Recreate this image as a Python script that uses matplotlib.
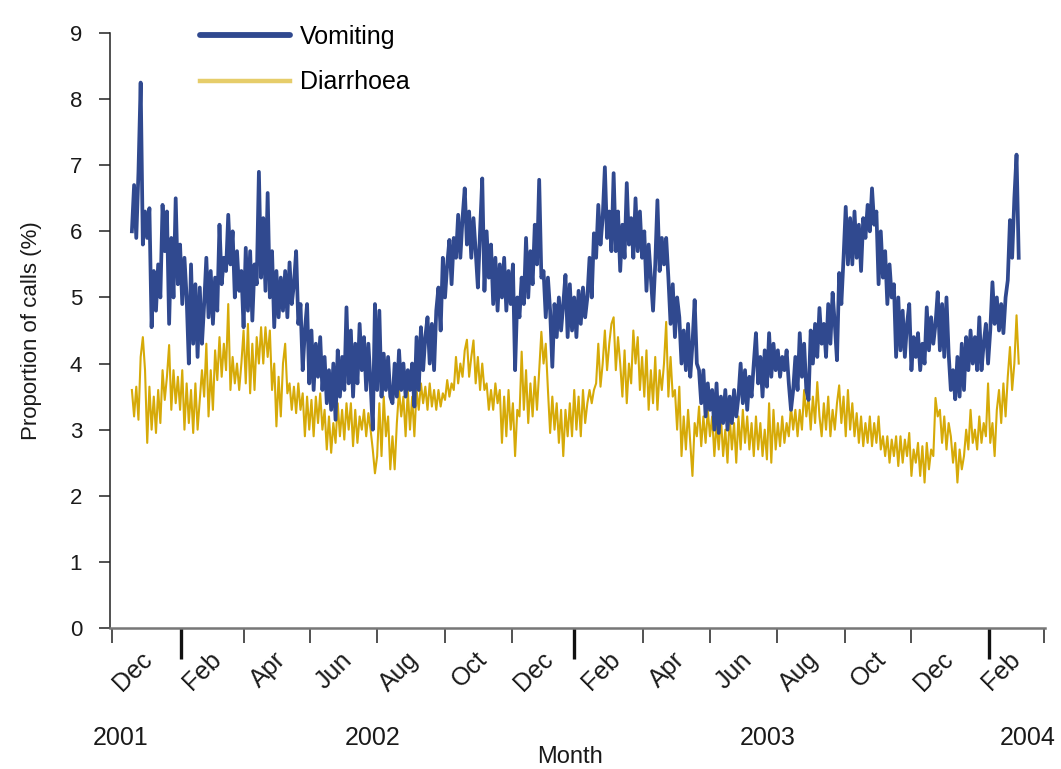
import matplotlib
matplotlib.use('Agg')
import matplotlib.pyplot as plt
import matplotlib.dates as mdates
from matplotlib.lines import Line2D
import pandas as pd

plt.rcParams['font.family'] = ['Liberation Sans', 'DejaVu Sans']

# ---------------- data (values read every 2 days) ----------------
start_date = '2001-11-19'
step = '2D'

vomiting = [
    6.0, 6.7, 5.9, 6.9, 8.25, 5.8, 6.3, 5.9, 6.35, 4.55,
    5.4, 4.8, 5.5, 5.0, 6.4, 5.7, 6.3, 4.6, 5.9, 5.0,
    6.5, 5.2, 5.8, 4.9, 5.6, 5.0, 4.0, 5.5, 4.3, 5.2,
    4.1, 5.15, 4.3, 4.9, 5.6, 4.7, 5.4, 4.6, 5.3, 4.8,
    6.1, 5.2, 5.6, 5.4, 6.25, 5.5, 6.0, 5.0, 5.7, 5.1,
    5.4, 4.55, 5.75, 4.8, 5.7, 4.65, 5.5, 5.2, 6.9, 5.3,
    6.2, 5.1, 6.58, 5.0, 5.7, 4.55, 5.4, 4.7, 5.3, 4.8,
    5.4, 4.7, 5.53, 4.9, 5.2, 5.7, 4.6, 4.9, 3.9, 4.5,
    4.9, 3.7, 4.5, 3.6, 4.3, 3.8, 4.4, 3.6, 4.1, 3.4,
    3.9, 3.3, 4.0, 3.15, 4.2, 3.5, 4.1, 3.6, 4.85, 3.7,
    4.5, 3.5, 4.3, 3.7, 4.6, 3.9, 4.4, 3.6, 4.3, 3.7,
    3.0, 4.9, 3.6, 4.8, 3.5, 4.15, 3.6, 4.1, 3.5, 3.4,
    4.0, 3.5, 4.2, 3.6, 4.0, 3.5, 3.9, 3.6, 4.0, 3.35,
    4.4, 3.6, 4.55, 3.9, 4.4, 4.7, 4.0, 4.6, 3.9, 4.8,
    5.15, 4.5, 5.6, 5.0, 5.5, 5.87, 5.2, 5.9, 5.6, 6.25,
    5.6, 6.2, 6.65, 5.8, 6.3, 5.6, 6.2, 5.7, 5.15, 6.0,
    6.8, 5.1, 6.0, 5.3, 5.8, 4.9, 5.6, 4.8, 5.5, 5.0,
    5.6, 4.8, 5.4, 4.9, 5.5, 3.9, 5.0, 4.7, 5.3, 4.9,
    5.9, 5.0, 5.7, 5.2, 6.1, 5.5, 6.78, 5.3, 5.4, 4.7,
    5.3, 4.8, 3.95, 4.9, 4.4, 5.0, 4.5, 4.9, 5.34, 4.4,
    5.2, 4.5, 5.0, 4.4, 5.1, 4.6, 5.15, 4.7, 5.0, 5.6,
    5.0, 5.97, 5.6, 6.4, 5.8, 6.2, 6.97, 5.9, 6.3, 5.7,
    6.88, 5.7, 6.3, 5.4, 6.1, 5.6, 6.73, 5.8, 6.2, 5.6,
    6.5, 5.7, 6.3, 5.6, 6.0, 5.1, 5.8, 5.3, 4.8, 5.5,
    6.47, 5.4, 5.9, 5.5, 5.9, 5.3, 4.6, 5.2, 4.4, 5.0,
    4.7, 4.0, 4.5, 3.9, 4.6, 3.8, 4.3, 4.96, 4.0, 3.9,
    3.4, 3.9, 3.2, 3.7, 3.3, 3.6, 3.0, 3.7, 2.95, 3.5,
    3.1, 3.6, 3.0, 3.5, 3.1, 3.6, 3.2, 3.5, 4.0, 3.4,
    3.9, 3.3, 3.8, 3.5, 4.0, 4.46, 3.7, 4.1, 3.5, 4.2,
    3.65, 4.46, 3.8, 4.3, 3.9, 4.2, 3.8, 4.1, 3.9, 4.2,
    3.7, 3.3, 3.6, 4.1, 3.6, 4.46, 3.8, 4.3, 3.6, 3.45,
    4.5, 4.0, 4.6, 4.1, 4.84, 4.3, 4.6, 4.1, 4.9, 4.3,
    5.07, 4.6, 4.05, 5.37, 4.9, 5.6, 6.37, 5.5, 6.2, 5.5,
    6.3, 5.6, 6.1, 5.4, 6.2, 5.9, 6.4, 6.0, 6.65, 6.1,
    6.3, 5.2, 6.0, 5.3, 5.7, 4.9, 5.5, 5.0, 5.2, 4.1,
    5.0, 4.2, 4.8, 4.1, 4.6, 4.9, 3.9, 4.4, 4.1, 4.46,
    3.9, 4.3, 4.0, 4.85, 4.2, 4.7, 4.3, 4.6, 5.08, 4.2,
    4.9, 4.1, 5.0, 4.15, 3.6, 3.9, 3.46, 4.1, 3.5, 4.3,
    3.6, 4.4, 3.9, 4.5, 4.0, 4.4, 3.9, 4.7, 3.9, 4.3,
    4.6, 4.0, 4.5, 5.23, 4.6, 5.0, 4.5, 4.9, 4.46, 5.0,
    5.26, 6.17, 5.6, 6.5, 7.16, 5.6,
]

diarrhoea = [
    3.6, 3.2, 3.65, 3.15, 4.1, 4.4, 3.9, 2.8, 3.65, 3.0,
    3.5, 2.95, 3.6, 3.1, 3.9, 3.45, 3.8, 4.28, 3.3, 3.9,
    3.4, 3.8, 3.3, 3.9, 3.0, 3.7, 3.1, 3.6, 2.95, 3.7,
    3.0, 3.45, 3.9, 3.5, 4.3, 3.2, 3.9, 3.3, 4.2, 3.75,
    4.4, 3.8, 4.3, 3.9, 4.9, 3.6, 4.1, 3.7, 4.0, 3.6,
    4.0, 4.5, 3.7, 4.6, 3.55, 4.3, 3.6, 4.4, 4.0, 4.55,
    4.0, 4.55, 4.1, 4.5, 3.6, 4.0, 3.05, 3.8, 3.2, 4.0,
    4.3, 3.55, 3.7, 3.3, 3.65, 3.25, 3.7, 3.3, 3.55, 2.9,
    3.5, 3.0, 3.45, 2.9, 3.5, 3.1, 3.55, 3.0, 3.3, 2.7,
    3.2, 2.65, 3.1, 2.8, 3.4, 2.9, 3.3, 2.85, 3.4, 3.0,
    3.4, 2.75, 3.3, 2.8, 3.2, 3.0, 3.3, 2.9, 3.25, 3.0,
    2.7, 2.34, 2.6, 3.4, 2.6, 3.5, 2.9, 3.2, 2.4, 2.9,
    2.4, 3.1, 3.6, 3.2, 3.5, 2.9, 3.6, 3.0, 3.5, 2.9,
    3.6, 3.3, 3.7, 3.4, 3.65, 3.3, 3.7, 3.35, 3.6, 3.3,
    3.6, 3.35, 3.55, 3.45, 3.75, 3.5, 3.7, 3.6, 4.1, 3.7,
    4.0, 3.8, 4.2, 4.36, 3.8, 4.1, 4.35, 3.7, 4.1, 3.6,
    4.0, 3.6, 3.7, 3.3, 3.6, 3.3, 3.7, 3.4, 3.6, 2.8,
    3.5, 2.9, 3.6, 3.0, 3.4, 2.6, 3.3, 3.2, 4.18, 3.3,
    3.9, 3.1, 3.7, 3.2, 3.8, 3.3, 3.9, 4.48, 4.0, 4.3,
    3.6, 2.95, 3.5, 3.0, 3.4, 2.8, 3.3, 2.6, 3.3, 2.9,
    3.4, 2.9, 3.6, 3.0, 3.5, 2.9, 3.6, 3.1, 3.4, 3.6,
    3.4, 3.6, 3.7, 4.3, 3.65, 4.0, 4.5, 3.9, 4.3, 4.6,
    4.7, 3.9, 4.4, 4.0, 3.5, 4.2, 3.4, 4.0, 3.7, 4.5,
    4.0, 4.4, 3.6, 4.1, 3.5, 4.2, 3.3, 3.9, 3.4, 4.1,
    3.3, 3.9, 3.6, 4.0, 4.63, 3.5, 4.1, 3.5, 3.6, 3.0,
    3.65, 2.6, 3.2, 2.7, 3.3, 2.8, 2.3, 3.1, 2.9, 3.35,
    2.75, 3.2, 2.8, 3.3, 2.9, 3.2, 2.6, 3.1, 2.7, 3.2,
    2.6, 3.0, 2.5, 3.2, 2.7, 3.1, 2.5, 3.2, 2.7, 3.3,
    2.8, 3.2, 2.7, 3.1, 2.6, 3.2, 2.7, 3.1, 2.6, 3.0,
    2.55, 3.4, 2.5, 3.3, 2.7, 3.1, 2.75, 3.2, 2.8, 3.1,
    2.9, 3.35, 3.0, 3.3, 2.9, 3.3, 3.0, 3.6, 3.2, 3.5,
    3.0, 3.5, 3.1, 3.72, 3.2, 2.9, 3.4, 3.0, 3.5, 2.9,
    3.3, 3.0, 3.4, 3.67, 3.1, 3.5, 2.9, 3.6, 3.0, 3.4,
    2.9, 3.25, 2.8, 3.2, 2.75, 3.1, 2.8, 3.2, 2.75, 3.1,
    2.8, 3.2, 2.7, 2.9, 2.6, 2.9, 2.5, 2.85, 2.6, 2.9,
    2.45, 2.9, 2.5, 2.85, 2.6, 2.95, 2.3, 2.7, 2.5, 2.8,
    2.3, 2.75, 2.2, 2.8, 2.4, 2.7, 2.6, 3.48, 3.2, 3.3,
    2.8, 3.2, 2.7, 3.1, 2.9, 2.5, 2.8, 2.2, 2.7, 2.4,
    2.6, 3.0, 2.7, 3.3, 2.8, 3.0, 2.7, 3.2, 2.8, 3.1,
    2.9, 3.7, 2.8, 3.1, 2.6, 3.3, 3.6, 3.1, 3.7, 3.2,
    3.8, 4.25, 3.6, 4.0, 4.73, 4.0,
]

series_names = ['Vomiting', 'Diarrhoea']

month_labels = ['Dec', 'Feb', 'Apr', 'Jun', 'Aug', 'Oct', 'Dec',
                'Feb', 'Apr', 'Jun', 'Aug', 'Oct', 'Dec', 'Feb']
month_label_dates = ['2001-11-26', '2002-01-28', '2002-03-28', '2002-05-28',
                     '2002-07-28', '2002-09-28', '2002-11-28', '2003-01-28',
                     '2003-03-28', '2003-05-28', '2003-07-28', '2003-09-28',
                     '2003-11-28', '2004-01-28']
month_tick_dates = ['2001-11-01', '2002-03-01', '2002-05-01', '2002-07-01',
                    '2002-09-01', '2002-11-01', '2003-03-01', '2003-05-01',
                    '2003-07-01', '2003-09-01', '2003-11-01', '2004-03-01']
year_tick_dates = ['2002-01-03', '2002-12-28', '2004-01-11']
year_labels = ['2001', '2002', '2003', '2004']
year_label_x = [0.011, 0.281, 0.703, 0.981]   # axes fraction

y_ticks = list(range(0, 10))

# ---------------- styles ----------------
BLUE = '#30498f'
GOLD = '#d6aa08'
GOLD_LEG = '#e6cd6a'
TXT = '#1a1a1a'

def dn(lst):
    return mdates.date2num(pd.to_datetime(lst).to_pydatetime())

dates = mdates.date2num(
    pd.date_range(start_date, periods=len(vomiting), freq=step).to_pydatetime())

fig = plt.figure(figsize=(10.61, 7.69), dpi=100)
ax = fig.add_axes([110/1061, 141/769, 935/1061, 595/769])

ax.plot(dates, diarrhoea, color=GOLD, lw=1.5, zorder=2)
ax.plot(dates, vomiting, color=BLUE, lw=2.7, zorder=3)

ax.set_xlim(dn(['2001-10-30'])[0], dn(['2004-03-02'])[0])
ax.set_ylim(0, 9)

for s in ['top', 'right']:
    ax.spines[s].set_visible(False)
ax.spines['left'].set_color('#222222')
ax.spines['left'].set_linewidth(1.1)
ax.spines['bottom'].set_color('#777777')
ax.spines['bottom'].set_linewidth(1.8)

ax.set_yticks(y_ticks)
ax.tick_params(axis='y', direction='out', length=8, width=1.1, color='#222222',
               labelsize=16, pad=12, labelcolor=TXT)

# month labels (no tick line) as major ticks
ax.set_xticks(dn(month_label_dates))
ax.set_xticklabels(month_labels)
ax.tick_params(axis='x', which='major', length=0, pad=14, labelsize=18,
               labelcolor=TXT)
plt.setp(ax.get_xticklabels(), rotation=45, ha='right', va='top',
         rotation_mode='anchor')

# thin month boundary ticks
ax.set_xticks(dn(month_tick_dates), minor=True)
ax.tick_params(axis='x', which='minor', direction='out', length=11, width=1.2,
               color='#333333')

# year boundary ticks
sec = ax.secondary_xaxis('bottom')
sec.set_xticks(dn(year_tick_dates))
sec.tick_params(axis='x', direction='out', length=22, width=2.4, color='#111111',
                labelbottom=False)
sec.spines['bottom'].set_visible(False)

for lab, xf in zip(year_labels, year_label_x):
    ax.text(xf, -0.185, lab, transform=ax.transAxes, ha='center', va='center',
            fontsize=18, color=TXT)

ax.text(0.492, -0.217, 'Month', transform=ax.transAxes, ha='center',
        va='center', fontsize=17, color=TXT)
ax.set_ylabel('Proportion of calls (%)', fontsize=16, color=TXT, labelpad=20)

handles = [Line2D([], [], color=BLUE, lw=4.2, solid_capstyle='round'),
           Line2D([], [], color=GOLD_LEG, lw=3.2)]
ax.legend(handles, series_names, loc='upper left',
          bbox_to_anchor=(200/1061, 1 - 25/769), bbox_transform=fig.transFigure,
          frameon=False, fontsize=18, handlelength=3.6, handletextpad=0.4,
          labelspacing=0.85, borderpad=0, borderaxespad=0)

fig.savefig('out.png', dpi=100)
